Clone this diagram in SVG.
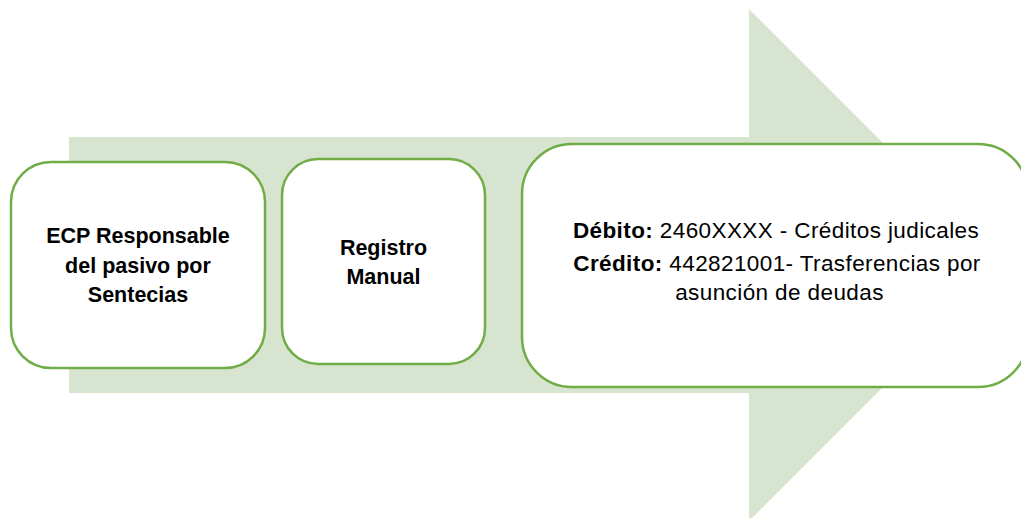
<svg xmlns="http://www.w3.org/2000/svg" width="1021" height="518" viewBox="0 0 1021 518">
<style>
.box{fill:#ffffff;stroke:#70AD47;stroke-width:2.5}
.t{font-family:"Liberation Sans",Arial,sans-serif;fill:#000000;text-anchor:middle}
.b{font-weight:bold;font-size:21.5px}
.r{font-size:22.5px;letter-spacing:0.4px}
</style>
<rect width="1021" height="518" fill="#ffffff"/>
<g id="arrow">
<polygon points="69,137 749,137 749,9 1005,265 749,521 749,393 69,393" fill="#D7E4CF"/>
</g>
<g id="connectors"></g>
<g id="node1">
<rect class="box" x="11" y="162" width="254" height="206" rx="40" ry="40"/>
<text class="t b" x="138" y="243">ECP Responsable</text>
<text class="t b" x="138" y="273">del pasivo por</text>
<text class="t b" x="138" y="302">Sentecias</text>
</g>
<g id="node2">
<rect class="box" x="282" y="159" width="203" height="205" rx="36" ry="36"/>
<text class="t b" x="383.5" y="255">Registro</text>
<text class="t b" x="383.5" y="284">Manual</text>
</g>
<g id="node3">
<rect class="box" x="522" y="144" width="506" height="243" rx="50" ry="50"/>
<text class="t r" x="776" y="238"><tspan font-weight="bold">Débito:</tspan> 2460XXXX - Créditos judicales</text>
<text class="t r" x="777" y="271"><tspan font-weight="bold">Crédito:</tspan> 442821001- Trasferencias por</text>
<text class="t r" x="779.5" y="300">asunción de deudas</text>
</g>
</svg>
